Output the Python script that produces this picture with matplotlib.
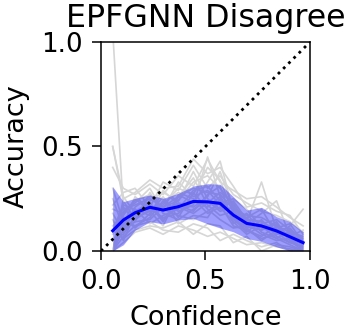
import numpy as np
import matplotlib
matplotlib.use('Agg')
import matplotlib.pyplot as plt

# bin centres (confidence) shared by every run
conf = [0.056, 0.107, 0.163, 0.234, 0.297, 0.37, 0.442, 0.51,
        0.57, 0.633, 0.697, 0.768, 0.84, 0.904, 0.967]

# mean accuracy and the shaded band around it
acc_mean = [0.097, 0.148, 0.183, 0.209, 0.196, 0.212, 0.237, 0.235,
            0.228, 0.172, 0.132, 0.12, 0.096, 0.068, 0.04]
acc_upper = [0.308, 0.236, 0.252, 0.268, 0.252, 0.276, 0.311, 0.322,
             0.319, 0.26, 0.196, 0.209, 0.164, 0.14, 0.092]
acc_lower = [0.0, 0.03, 0.10, 0.14, 0.13, 0.148, 0.156, 0.13,
             0.11, 0.092, 0.06, 0.046, 0.02, 0.0, 0.0]

# individual runs (gray)
runs = [
    [1.05, 0.20, 0.22, 0.25, 0.21, 0.26, 0.30, 0.28, 0.27, 0.20, 0.15, 0.14, 0.10, 0.08, 0.05],
    [0.50, 0.26, 0.18, 0.24, 0.28, 0.24, 0.33, 0.36, 0.30, 0.22, 0.12, 0.10, 0.13, 0.06, 0.03],
    [0.50, 0.24, 0.15, 0.20, 0.22, 0.30, 0.27, 0.40, 0.34, 0.18, 0.16, 0.20, 0.08, 0.09, 0.07],
    [0.05, 0.12, 0.26, 0.20, 0.16, 0.18, 0.24, 0.21, 0.26, 0.15, 0.10, 0.07, 0.12, 0.05, 0.02],
    [0.00, 0.10, 0.14, 0.28, 0.18, 0.15, 0.20, 0.24, 0.19, 0.21, 0.14, 0.33, 0.10, 0.11, 0.04],
    [0.10, 0.22, 0.20, 0.17, 0.29, 0.22, 0.19, 0.27, 0.31, 0.13, 0.18, 0.09, 0.06, 0.03, 0.00],
    [0.15, 0.05, 0.18, 0.22, 0.14, 0.26, 0.35, 0.22, 0.17, 0.19, 0.11, 0.13, 0.15, 0.10, 0.06],
    [0.00, 0.15, 0.12, 0.16, 0.24, 0.19, 0.22, 0.45, 0.26, 0.16, 0.09, 0.15, 0.07, 0.04, 0.02],
    [0.20, 0.18, 0.24, 0.27, 0.20, 0.17, 0.15, 0.19, 0.23, 0.25, 0.20, 0.11, 0.09, 0.07, 0.10],
    [0.05, 0.08, 0.16, 0.19, 0.23, 0.28, 0.25, 0.18, 0.21, 0.14, 0.08, 0.12, 0.11, 0.13, 0.04],
    [0.30, 0.14, 0.20, 0.13, 0.17, 0.20, 0.29, 0.31, 0.24, 0.17, 0.13, 0.08, 0.05, 0.06, 0.01],
    [0.00, 0.19, 0.23, 0.30, 0.19, 0.23, 0.21, 0.26, 0.38, 0.20, 0.17, 0.16, 0.12, 0.09, 0.03],
    [0.12, 0.16, 0.11, 0.18, 0.26, 0.16, 0.28, 0.20, 0.15, 0.11, 0.12, 0.10, 0.14, 0.05, 0.00],
    [0.25, 0.11, 0.19, 0.23, 0.15, 0.21, 0.18, 0.23, 0.28, 0.23, 0.13, 0.18, 0.24, 0.07, 0.05],
    [0.00, 0.13, 0.17, 0.21, 0.20, 0.33, 0.26, 0.29, 0.22, 0.12, 0.10, 0.06, 0.08, 0.12, 0.20],
    [0.08, 0.21, 0.14, 0.15, 0.21, 0.24, 0.38, 0.25, 0.20, 0.24, 0.15, 0.14, 0.09, 0.04, 0.06],
    [0.18, 0.09, 0.21, 0.26, 0.25, 0.13, 0.17, 0.16, 0.25, 0.16, 0.11, 0.05, 0.10, 0.08, 0.03],
    [0.00, 0.17, 0.25, 0.19, 0.12, 0.27, 0.23, 0.33, 0.43, 0.19, 0.14, 0.12, 0.06, 0.10, 0.05],
    [0.22, 0.28, 0.30, 0.21, 0.33, 0.29, 0.41, 0.30, 0.36, 0.27, 0.23, 0.19, 0.17, 0.14, 0.09],
    [0.00, 0.04, 0.09, 0.11, 0.08, 0.12, 0.10, 0.07, 0.09, 0.06, 0.03, 0.04, 0.02, 0.01, 0.00],
    [0.00, 0.07, 0.12, 0.14, 0.10, 0.09, 0.13, 0.11, 0.05, 0.08, 0.05, 0.02, 0.04, 0.00, 0.02],
    [0.40, 0.30, 0.27, 0.32, 0.27, 0.36, 0.31, 0.44, 0.33, 0.29, 0.25, 0.26, 0.21, 0.16, 0.12],
    [0.10, 0.06, 0.10, 0.12, 0.11, 0.14, 0.08, 0.13, 0.12, 0.04, 0.07, 0.00, 0.03, 0.02, 0.00],
    [0.00, 0.25, 0.28, 0.34, 0.30, 0.31, 0.44, 0.37, 0.40, 0.31, 0.21, 0.23, 0.19, 0.17, 0.08],
]

fig = plt.figure(figsize=(3.54, 3.36), dpi=100)
ax = fig.add_axes([0.2853, 0.253, 0.5904, 0.622])

for r in runs:
    ax.plot(conf, r, color='#d6d6d6', linewidth=1.2, zorder=1)

ax.fill_between(conf, acc_lower, acc_upper, color='#0000ff', alpha=0.38,
                linewidth=0, zorder=2)
ax.plot(conf, acc_mean, color='#0000ff', linewidth=2.2, zorder=3)
ax.plot([0, 1], [0, 1], color='black', linestyle=':', linewidth=2, zorder=4)

ax.set_xlim(0, 1)
ax.set_ylim(0, 1)
ax.set_xticks([0, 0.5, 1.0])
ax.set_yticks([0, 0.5, 1.0])
ax.tick_params(labelsize=18.8, length=6.5, width=1.1, pad=6.5)
for s in ax.spines.values():
    s.set_linewidth(1.1)

ax.set_title('EPFGNN Disagree', fontsize=22.8, pad=11)
ax.set_xlabel('Confidence', fontsize=19.5, labelpad=7)
ax.set_ylabel('Accuracy', fontsize=19.5, labelpad=8)

fig.savefig('out.png', dpi=100)
